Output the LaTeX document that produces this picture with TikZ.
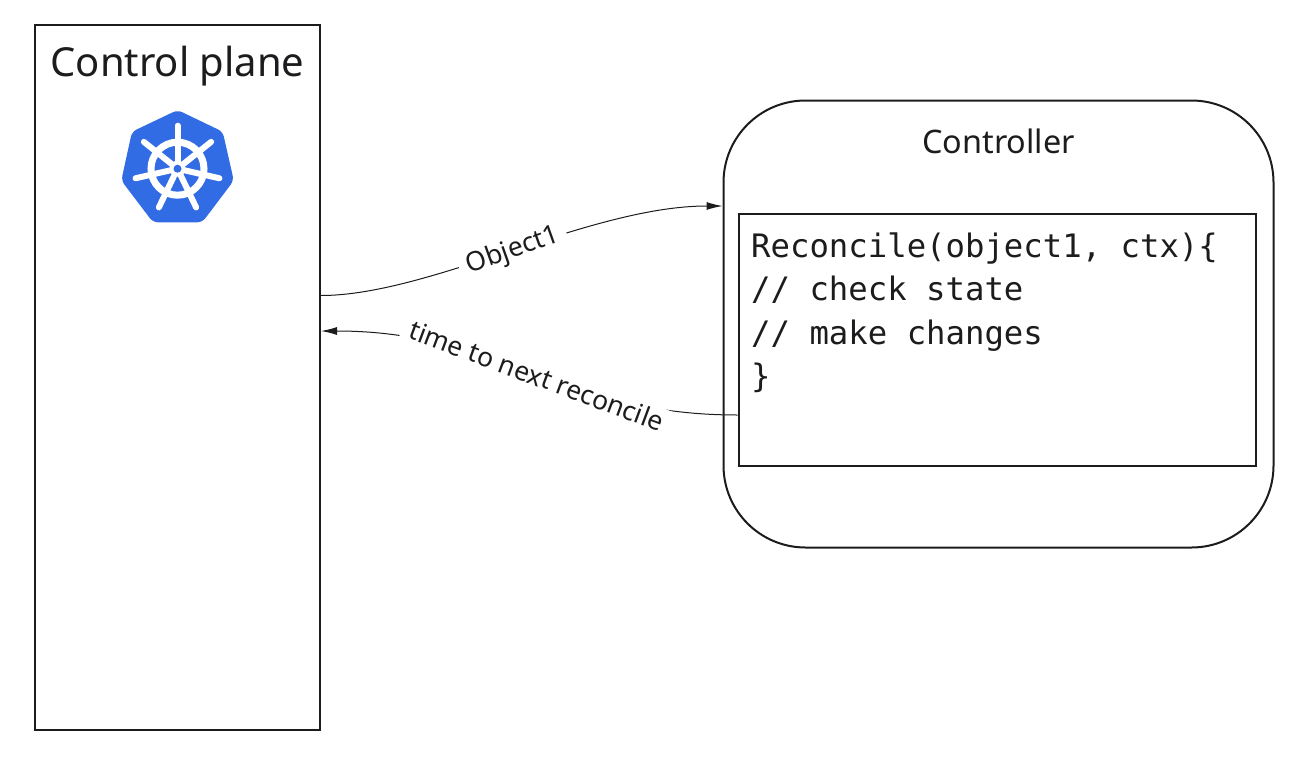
\documentclass[tikz,border=0pt]{standalone}
\usepackage{fontspec}
\setmainfont{Noto Sans}
\newfontfamily\codefont{DejaVu Sans Mono}
\usetikzlibrary{arrows.meta}
\definecolor{kblue}{RGB}{50,108,229}
\definecolor{ink}{RGB}{28,28,30}
\tikzset{
  box/.style={draw=ink,line width=2pt,inner sep=0pt},
  flow/.style={draw=ink,line width=1pt,-{Latex[length=16pt,width=8pt]}},
  flowlabel/.style={fill=white,sloped,inner xsep=8pt,inner ysep=3pt,font=\fontsize{26.6}{30}\selectfont,text=ink},
}
\begin{document}
\begin{tikzpicture}[x=1pt,y=-1pt]
\useasboundingbox (0,0) rectangle (1300,768);
\node[box,minimum width=285pt,minimum height=705pt] (plane) at (177.5,377.5) {};
\node[text=ink,font=\fontsize{40}{46}\selectfont] (planetitle) at (177.5,66) {Control plane};
\node[box,rounded corners=82pt,minimum width=550pt,minimum height=447pt] (ctrl) at (998.5,324) {};
\node[text=ink,font=\fontsize{32.4}{38}\selectfont] (ctrltitle) at (998.5,141.5) {Controller};
\node[box,minimum width=517pt,minimum height=252pt] (code) at (997,339.5) {};
\node[anchor=north west,inner sep=0pt,text=ink,align=left,font=\codefont\fontsize{32.3}{43.5}\selectfont] (codetext) at (751,232.5) {Reconcile(object1, ctx)\{\\// check state\\// make changes\\\}};
% Kubernetes logo
\fill[kblue,rounded corners=5pt] (177.6,110) -- (222.7,131.7) -- (233.8,180.5) -- (202.3,222.3) -- (153,222.3) -- (121.3,180.5) -- (132,131.7) -- cycle;
\begin{scope}[shift={(177.5,168.7)}]
  \draw[white,line width=7pt] (0,0) circle (26.5);
  \foreach \a in {90,141.43,192.86,244.29,295.71,347.14,398.57}{
    \draw[white,line width=6pt,line cap=round] (0,0) -- ++({43*cos(\a)},{-43*sin(\a)});
  }
  \fill[white] (0,0) circle (8);
  \fill[kblue] (0,0) circle (4);
\end{scope}
\coordinate (a1) at (plane.east |- 0,295.5);
\coordinate (a2) at (ctrl.west |- 0,206);
\coordinate (b1) at (code.west |- 0,415);
\coordinate (b2) at (plane.east |- 0,331);
\draw[flow] (a1) .. controls (430,295.5) and (590,206) .. node[flowlabel,pos=0.5,rotate=2] (objlabel) {Object1} (a2);
\draw[flow] (b1) .. controls (560,415) and (500,331) .. node[flowlabel,pos=0.48,rotate=-1] (timelabel) {time to next reconcile} (b2);
\end{tikzpicture}
\end{document}
